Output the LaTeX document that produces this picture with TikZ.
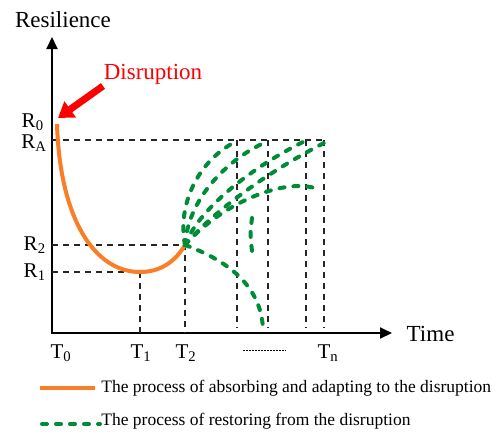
\documentclass[tikz,border=0pt]{standalone}
\usepackage{fontspec}
\setmainfont{Liberation Serif}
\usetikzlibrary{arrows.meta}

\definecolor{absorbcol}{RGB}{250,125,40}
\definecolor{restorecol}{RGB}{0,140,55}

\def\ux{1pt}
\def\uy{-1pt}

\tikzset{
  axisline/.style={line width=2pt, -{Triangle[length=12pt,width=11pt]}},
  guide/.style={black!85, line width=1.3pt, dash pattern=on 6pt off 5pt},
  absorb/.style={absorbcol, line width=4pt},
  restore/.style={restorecol, line width=4pt, line cap=round, dash pattern=on 5pt off 9pt},
  lbl/.style={font=\fontsize{21}{24}\selectfont, inner sep=1pt},
}

\begin{document}
\begin{tikzpicture}[x=\ux,y=\uy, thick]
  \useasboundingbox (0,0) rectangle (496,432);

  % axes
  \coordinate (origin) at (52,333);
  \draw[axisline] (52,334) -- (52,37);
  \draw[axisline] (51,333) -- (392,333);
  \node[font=\fontsize{23}{26}\selectfont] (ylabel) at (63,20) {Resilience};
  \node[font=\fontsize{23}{26}\selectfont, anchor=west] (xlabel) at (403,334) {Time};

  % key points
  \coordinate (r0) at (57,124);
  \coordinate (t1) at (140,272);
  \coordinate (t2) at (185,245);

  % guide lines
  \draw[guide] (52,140) -- (325,140);
  \draw[guide] (52,245) -- (t2) -- (185,333);
  \draw[guide] (52,272) -- (t1) -- (140,333);
  \foreach \x in {237,268,306,324}{
    \draw[guide] (\x,140) -- (\x,328);
  }

  % labels on the axes
  \node[lbl, anchor=east] (R0) at (45,122) {R\textsubscript{0}};
  \node[lbl, anchor=east] (RA) at (48,143) {R\textsubscript{A}};
  \node[lbl, anchor=east] (R2) at (47,245) {R\textsubscript{2}};
  \node[lbl, anchor=east] (R1) at (47,272) {R\textsubscript{1}};
  \node[lbl] (T0) at (61,353) {T\textsubscript{0}};
  \node[lbl] (T1) at (141,353) {T\textsubscript{1}};
  \node[lbl] (T2) at (186,353) {T\textsubscript{2}};
  \node[lbl] (Tn) at (328,353) {T\textsubscript{n}};
  \draw[line width=0.8pt, dash pattern=on 1.5pt off 1.5pt] (243,350) -- (286,350);

  % disruption
  \node[red, font=\fontsize{23}{26}\selectfont] (disrupt) at (153,74) {Disruption};
  \coordinate (hit) at (58,118);
  \draw[red, line width=7pt, -{Triangle[length=15pt,width=19pt]}] (103,86) -- (hit);

  % absorbing
  \draw[absorb] (r0) .. controls (60,220) and (95,272) .. (t1)
                     .. controls (160,272) and (175,262) .. (t2);

  % restoring
  \draw[restore] (t2) .. controls (177,205) and (198,160) .. (237,141);
  \draw[restore] (t2) .. controls (188,200) and (225,160) .. (268,141);
  \draw[restore] (t2) .. controls (198,210) and (250,168) .. (305,141);
  \draw[restore] (t2) .. controls (210,215) and (262,175) .. (324,143);
  \draw[restore] (t2) .. controls (225,200) and (290,176) .. (320,190);
  \draw[restore] (252,218) .. controls (250,235) .. (253,259);
  \draw[restore] (t2) .. controls (240,265) and (262,295) .. (263,330);

  % legend
  \draw[absorb] (40,388) -- (95,388);
  \node[font=\fontsize{17.5}{20}\selectfont, anchor=west, inner sep=1pt] (leg1) at (100,388) {The process of absorbing and adapting to the disruption};
  \draw[restore] (42,424) -- (100,424);
  \node[font=\fontsize{17.5}{20}\selectfont, anchor=west, inner sep=1pt] (leg2) at (100,421) {The process of restoring from the disruption};
\end{tikzpicture}
\end{document}
